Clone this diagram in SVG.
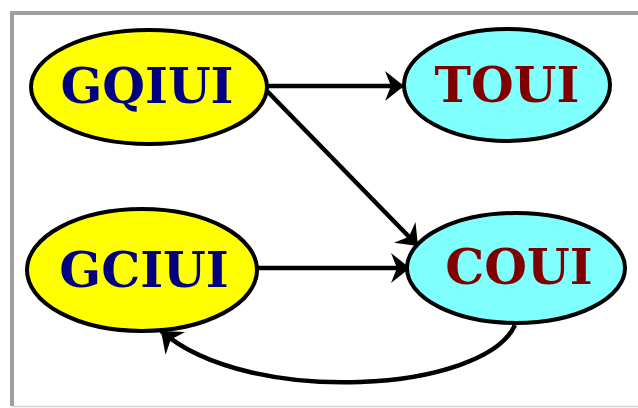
<svg xmlns="http://www.w3.org/2000/svg" width="638" height="408" viewBox="0 0 638 408">
  <style>
    .frame-dark { stroke: #a0a0a0; stroke-width: 4; fill: none; }
    .frame-light { stroke: #d4d4d4; stroke-width: 1.5; fill: none; }
    .edge { stroke: #000; stroke-width: 4.5; fill: none; }
    .src { fill: #ffff00; stroke: #000; stroke-width: 4; }
    .dst { fill: #80ffff; stroke: #000; stroke-width: 4; }
    .label { font-family: "DejaVu Serif", "Liberation Serif", serif; font-weight: bold; font-size: 49px; text-anchor: middle; }
    .src-label { fill: #000080; }
    .dst-label { fill: #800000; }
  </style>
  <defs>
    <marker id="arrow" markerUnits="userSpaceOnUse" markerWidth="24" markerHeight="34" viewBox="-22 -17 24 34" refX="0" refY="0" orient="auto">
      <path d="M0,0 L-19,-15 L-13,0 L-19,15 Z" fill="#000"/>
    </marker>
  </defs>

  <rect width="638" height="408" fill="#ffffff"/>

  <!-- panel frame -->
  <g id="frame">
    <path class="frame-dark" d="M12,406 L12,13 L640,13"/>
    <path class="frame-light" d="M12,406.5 L640,406.5"/>
  </g>

  <!-- connectors -->
  <g id="connectors">
    <path class="edge" d="M268,86 L404,86" marker-end="url(#arrow)"/>
    <path class="edge" d="M267,91 L418,246" marker-end="url(#arrow)"/>
    <path class="edge" d="M258,268 L410,268" marker-end="url(#arrow)"/>
    <path class="edge" d="M515,325 C485,392 250,408 161,331" marker-end="url(#arrow)"/>
  </g>

  <!-- nodes -->
  <g id="GQIUI">
    <ellipse class="src" cx="149" cy="87" rx="118" ry="57"/>
    <text class="label src-label" x="147" y="103">GQIUI</text>
  </g>
  <g id="TOUI">
    <ellipse class="dst" cx="507" cy="85" rx="103" ry="56"/>
    <text class="label dst-label" x="507" y="102">TOUI</text>
  </g>
  <g id="GCIUI">
    <ellipse class="src" cx="142" cy="270" rx="115" ry="61"/>
    <text class="label src-label" x="144" y="287">GCIUI</text>
  </g>
  <g id="COUI">
    <ellipse class="dst" cx="516" cy="268" rx="109" ry="55"/>
    <text class="label dst-label" x="519" y="284">COUI</text>
  </g>
</svg>
